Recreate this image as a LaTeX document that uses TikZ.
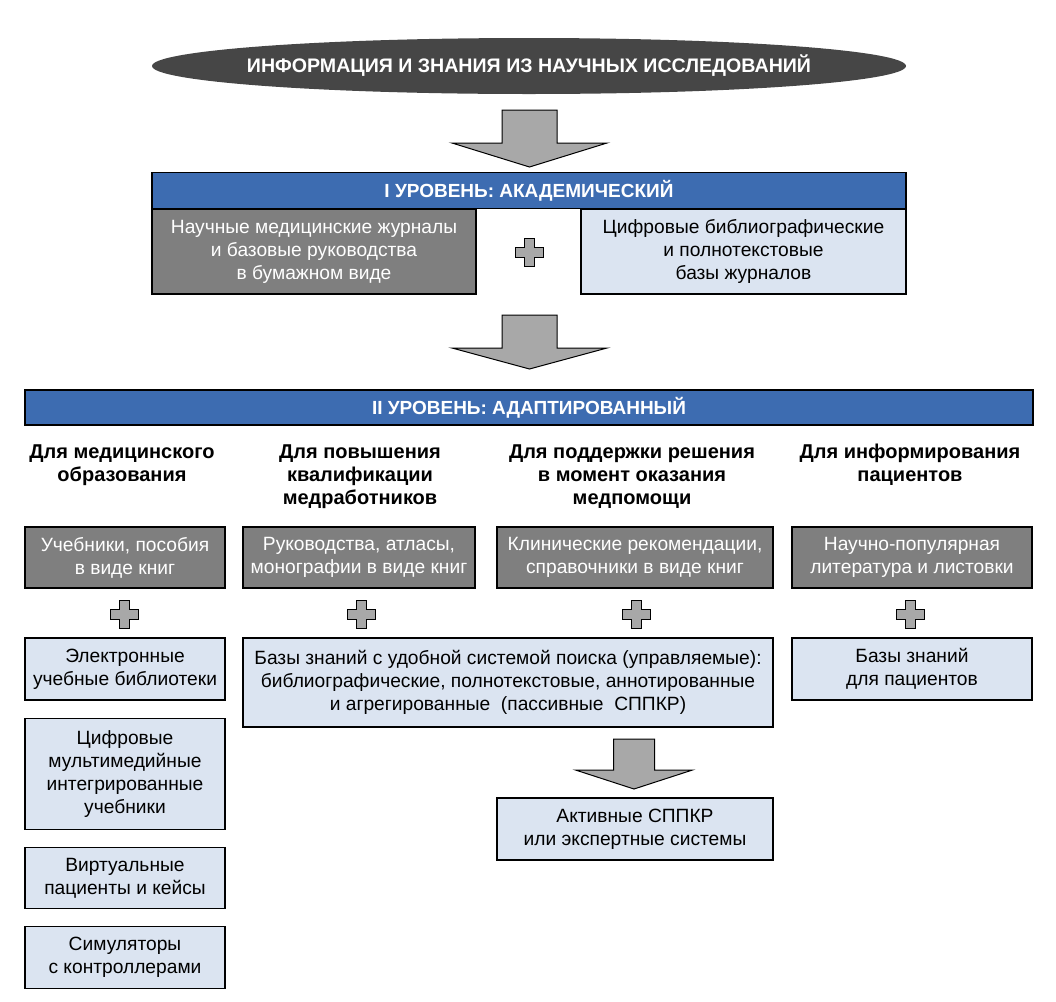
\documentclass[tikz,border=0pt]{standalone}
\usepackage{fontspec}
\setmainfont{Liberation Sans}
\usepackage{tikz}
\usetikzlibrary{positioning,shapes.geometric}
\definecolor{hdrblue}{RGB}{61,108,177}
\definecolor{ellgray}{RGB}{70,70,70}
\definecolor{boxgray}{RGB}{127,127,127}
\definecolor{boxlight}{RGB}{219,228,241}
\definecolor{signgray}{RGB}{168,168,168}

\begin{document}
\begin{tikzpicture}[x=0.5pt,y=-0.5pt,node distance=8.5pt,
    txt/.style={font=\fontsize{9.6}{11.5}\selectfont,align=center,inner sep=1pt},
    darkbox/.style={txt,draw,line width=0.6pt,fill=boxgray,text=white,minimum height=30.5pt},
    lightbox/.style={txt,draw,line width=0.6pt,fill=boxlight,minimum height=31pt},
    hdr/.style={draw,line width=0.6pt,fill=hdrblue,text=white,font=\fontsize{9.5}{11}\selectfont\bfseries,minimum height=18pt},
    colhead/.style={font=\fontsize{10}{11.5}\selectfont\bfseries,align=center,inner sep=0pt,anchor=north},
    blockarr/.style={draw,line width=0.5pt,fill=signgray,line join=miter}]
  \useasboundingbox (0,0) rectangle (1056,1002);

  % top source
  \node[ellipse,fill=ellgray,inner xsep=-9pt,inner ysep=0pt,minimum width=377pt,minimum height=28pt,
        text=white,font=\fontsize{9.8}{11}\selectfont\bfseries] (src) at (529,66)
        {ИНФОРМАЦИЯ И ЗНАНИЯ ИЗ НАУЧНЫХ ИССЛЕДОВАНИЙ};

  % level I
  \node[hdr,minimum width=377pt] (lvl1) at (529,190.5) {I УРОВЕНЬ: АКАДЕМИЧЕСКИЙ};
  \node[darkbox,minimum width=162pt,minimum height=42.5pt] (paper) at (314,251.5)
        {Научные медицинские журналы\\и базовые руководства\\в бумажном виде};
  \node[lightbox,minimum width=162.5pt,minimum height=42.5pt] (digital) at (743.5,251.5)
        {Цифровые библиографические\\и полнотекстовые\\базы журналов};

  % level II
  \node[hdr,minimum width=504pt,minimum height=17.5pt] (lvl2) at (529,407.5) {II УРОВЕНЬ: АДАПТИРОВАННЫЙ};

  \node[colhead] (forEdu)  at (122,444) {Для медицинского\\образования};
  \node[colhead] (forQual) at (360,444) {Для повышения\\квалификации\\медработников};
  \node[colhead] (forCare) at (632,444) {Для поддержки решения\\в момент оказания\\медпомощи};
  \node[colhead] (forPat)  at (910,444) {Для информирования\\пациентов};

  \node[darkbox,minimum width=100pt] (book1) at (125,557.5) {Учебники, пособия\\в виде книг};
  \node[darkbox,minimum width=116pt] (book2) at (359,557.5) {Руководства, атласы,\\монографии в виде книг};
  \node[darkbox,minimum width=138pt] (book3) at (635,557.5) {Клинические рекомендации,\\справочники в виде книг};
  \node[darkbox,minimum width=120pt] (book4) at (912,557.5) {Научно-популярная\\литература и листовки};

  \node[lightbox,minimum width=100pt] (elib) at (125,669) {Электронные\\учебные библиотеки};
  \node[lightbox,minimum width=100pt,minimum height=55.5pt] (mmed) [below=of elib]
        {Цифровые\\мультимедийные\\интегрированные\\учебники};
  \node[lightbox,minimum width=100pt,minimum height=30.5pt] (virt) [below=of mmed]
        {Виртуальные\\пациенты и кейсы};
  \node[lightbox,minimum width=100pt] (sim) [below=of virt] {Симуляторы\\с контроллерами};

  \node[lightbox,minimum width=265pt,minimum height=44.5pt] (kbase) at (508,682.5)
        {Базы знаний с удобной системой поиска (управляемые):\\библиографические, полнотекстовые, аннотированные\\и агрегированные\ \ (пассивные\ \ СППКР)};
  \node[lightbox,minimum width=138pt] (active) at (635,829) {Активные СППКР\\или экспертные системы};
  \node[lightbox,minimum width=120pt] (kpat) at (912,669) {Базы знаний\\для пациентов};

  % plus signs
  \foreach \px/\py in {529/252,124/614,361/614,636/614,910/614}
    \draw[blockarr] (\px,\py) ++(-5,-14) -- ++(10,0) -- ++(0,9) -- ++(9,0) -- ++(0,10)
      -- ++(-9,0) -- ++(0,9) -- ++(-10,0) -- ++(0,-9) -- ++(-9,0) -- ++(0,-10) -- ++(9,0) -- cycle;

  % block arrows
  \draw[blockarr] (529.5,110) ++(-27.5,0) -- ++(55,0) -- ++(0,33) -- ++(50,0)
    -- ++(-77.5,24) -- ++(-77.5,-24) -- ++(50,0) -- cycle;
  \draw[blockarr] (529.5,315) ++(-27.5,0) -- ++(55,0) -- ++(0,33) -- ++(50,0)
    -- ++(-77.5,21) -- ++(-77.5,-21) -- ++(50,0) -- cycle;
  \draw[blockarr] (634,739) ++(-20.5,0) -- ++(41,0) -- ++(0,31) -- ++(38,0)
    -- ++(-58.5,19) -- ++(-58.5,-19) -- ++(38,0) -- cycle;
\end{tikzpicture}
\end{document}
